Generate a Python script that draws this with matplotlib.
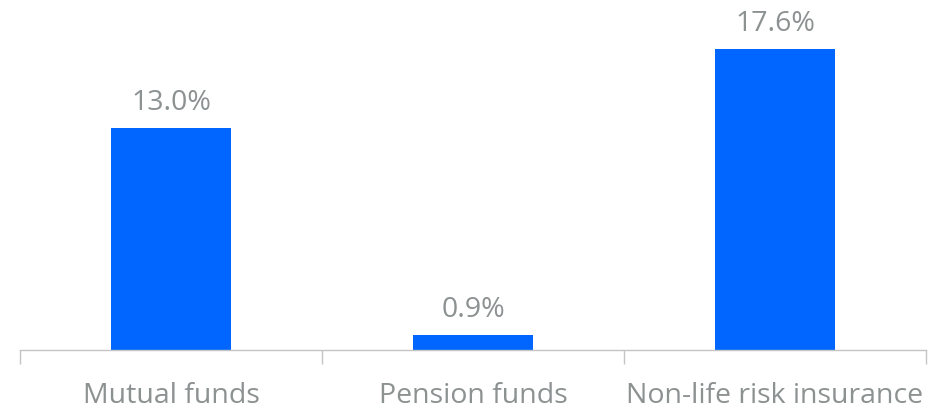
import matplotlib.pyplot as plt
import numpy as np

plt.rcParams['font.family'] = ['Open Sans', 'DejaVu Sans']

# Data
categories = ['Mutual funds', 'Pension funds', 'Non-life risk insurance']
values = [13.0, 0.9, 17.6]
labels = ['13.0%', '0.9%', '17.6%']

bar_color = '#0066ff'
text_color = '#8c9191'
axis_color = '#c4c4c4'

fig = plt.figure(figsize=(9.4, 4.09), dpi=100)
ax = fig.add_axes([20 / 940, 59 / 409, 906 / 940, 342 / 409])

x = np.arange(len(categories))
bars = ax.bar(x, values, width=0.4, color=bar_color, zorder=2)

ax.set_xlim(-0.5, 2.5)
ax.set_ylim(0, 20)

for bar, lab in zip(bars, labels):
    ax.annotate(lab, (bar.get_x() + bar.get_width() / 2, bar.get_height()),
                xytext=(0, 13), textcoords='offset points',
                ha='center', va='baseline', fontsize=20.5, color=text_color)

# category boundary ticks
ax.set_xticks([-0.5, 0.5, 1.5, 2.5])
ax.set_xticklabels([])
ax.set_xticks(x, minor=True)
ax.set_xticklabels(categories, minor=True, fontsize=20.5, color=text_color)
ax.tick_params(axis='x', which='major', length=10, width=1, color=axis_color)
ax.tick_params(axis='x', which='minor', length=0, pad=23)
ax.set_yticks([])

for side in ['top', 'right', 'left']:
    ax.spines[side].set_visible(False)
ax.spines['bottom'].set_color(axis_color)
ax.spines['bottom'].set_linewidth(1)

fig.savefig('out.png', dpi=100)
